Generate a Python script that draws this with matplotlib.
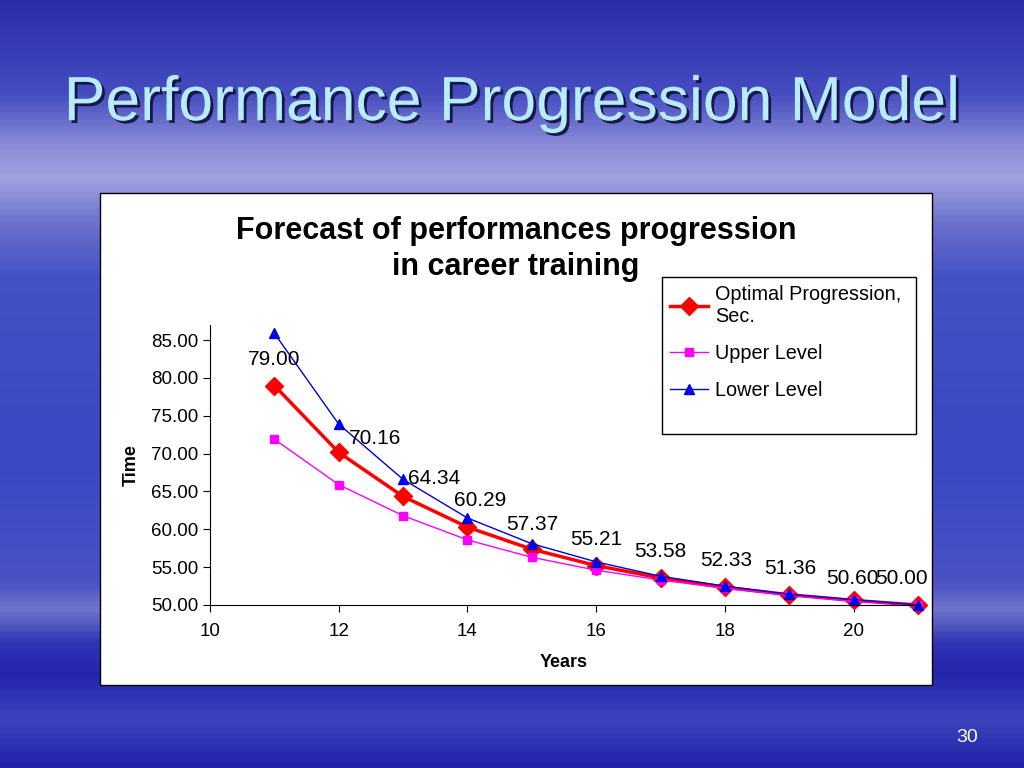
import numpy as np
import matplotlib.pyplot as plt
from matplotlib.colors import LinearSegmentedColormap
import matplotlib.patheffects as pe

plt.rcParams['font.family'] = ['Liberation Sans', 'DejaVu Sans']

years = [11, 12, 13, 14, 15, 16, 17, 18, 19, 20, 21]
optimal = [79.00, 70.16, 64.34, 60.29, 57.37, 55.21, 53.58, 52.33, 51.36, 50.60, 50.00]
upper = [71.9, 65.9, 61.8, 58.6, 56.3, 54.6, 53.3, 52.2, 51.3, 50.5, 50.0]
lower = [85.9, 73.9, 66.6, 61.5, 58.1, 55.7, 53.8, 52.5, 51.4, 50.7, 50.0]
y_ticks = [50, 55, 60, 65, 70, 75, 80, 85]
x_ticks = [10, 12, 14, 16, 18, 20]

# offsets of the value labels (points) - moved by hand in the original
label_dx = [0, 26, 22, 9, 0, 0, 0, 1, 1, -1, -12]
label_dy = [19, 10, 13, 19, 18, 19, 19, 19, 19, 16, 19]

fig = plt.figure(figsize=(10.24, 7.68), dpi=100)

# slide background, in pixel coords
bg = fig.add_axes([0, 0, 1, 1], zorder=-1)
cmap = LinearSegmentedColormap.from_list('slide', [
    (0.0, '#2c2ca8'), (0.12, '#454cc0'), (0.19, '#8c8ed8'), (0.23, '#a0a2e0'), (0.29, '#6a70cc'),
    (0.36, '#4452c4'), (0.6, '#3a48c2'), (0.76, '#4a52c4'), (0.795, '#7074cc'), (0.84, '#3034b4'),
    (0.88, '#2424aa'), (0.94, '#3c44bc'), (1.0, '#2222a8')])
grad = np.linspace(0, 1, 384).reshape(-1, 1)
bg.imshow(grad, aspect='auto', cmap=cmap, extent=[0, 1024, 768, 0])
bg.add_patch(plt.Rectangle((100, 193), 832, 492, facecolor='white', edgecolor='black', lw=1))
bg.add_patch(plt.Rectangle((662, 277), 254, 157, facecolor='white', edgecolor='black', lw=1))
bg.set_xlim(0, 1024)
bg.set_ylim(768, 0)
bg.axis('off')

fig.text(0.5, 0.865, 'Performance Progression Model', ha='center', va='center',
         fontsize=45, color='#b8ecf8',
         path_effects=[pe.withSimplePatchShadow(offset=(2, -2), shadow_rgbFace='#101040', alpha=0.9)])
fig.text(0.944, 0.04, '30', ha='center', va='center', fontsize=14, color='white')

ax = fig.add_axes([210 / 1024, 1 - 605 / 768, 708 / 1024, 280 / 768])
ax.set_facecolor('none')
ax.plot(years, optimal, color='red', lw=2.5, marker='D', ms=9, clip_on=False,
        label='Optimal Progression,\nSec.')
ax.plot(years, upper, color='#ff00ff', lw=1, marker='s', ms=5.5, clip_on=False, label='Upper Level')
ax.plot(years, lower, color='#0000dd', lw=1, marker='^', ms=7, markerfacecolor='#0000ff',
        clip_on=False, label='Lower Level')

for i in range(len(years)):
    ax.annotate('%.2f' % optimal[i], (years[i], optimal[i]), xytext=(label_dx[i], label_dy[i]),
                textcoords='offset points', ha='center', va='center', fontsize=15)

ax.set_xlim(10, 21)
ax.set_ylim(50, 87)
ax.set_xticks(x_ticks)
ax.set_yticks(y_ticks)
ax.set_yticklabels(['%.2f' % v for v in y_ticks])
ax.tick_params(labelsize=13.5, direction='out', length=5)
ax.tick_params(axis='x', pad=8)
ax.spines['top'].set_visible(False)
ax.spines['right'].set_visible(False)
ax.set_xlabel('Years', fontsize=13, fontweight='bold', labelpad=10)
ax.set_ylabel('Time', fontsize=13, fontweight='bold', labelpad=8)

fig.text(516 / 1024, 1 - 249 / 768, 'Forecast of performances progression\nin career training',
         ha='center', va='center', fontsize=22, fontweight='bold', linespacing=1.3)

leg = ax.legend(loc='upper left', bbox_to_anchor=((664 - 210) / 708, (605 - 279) / 280),
                fontsize=14.3, frameon=False, handlelength=1.9, handletextpad=0.35,
                labelspacing=0.9, borderpad=0.2, borderaxespad=0.1)

fig.savefig('out.png', dpi=100)
